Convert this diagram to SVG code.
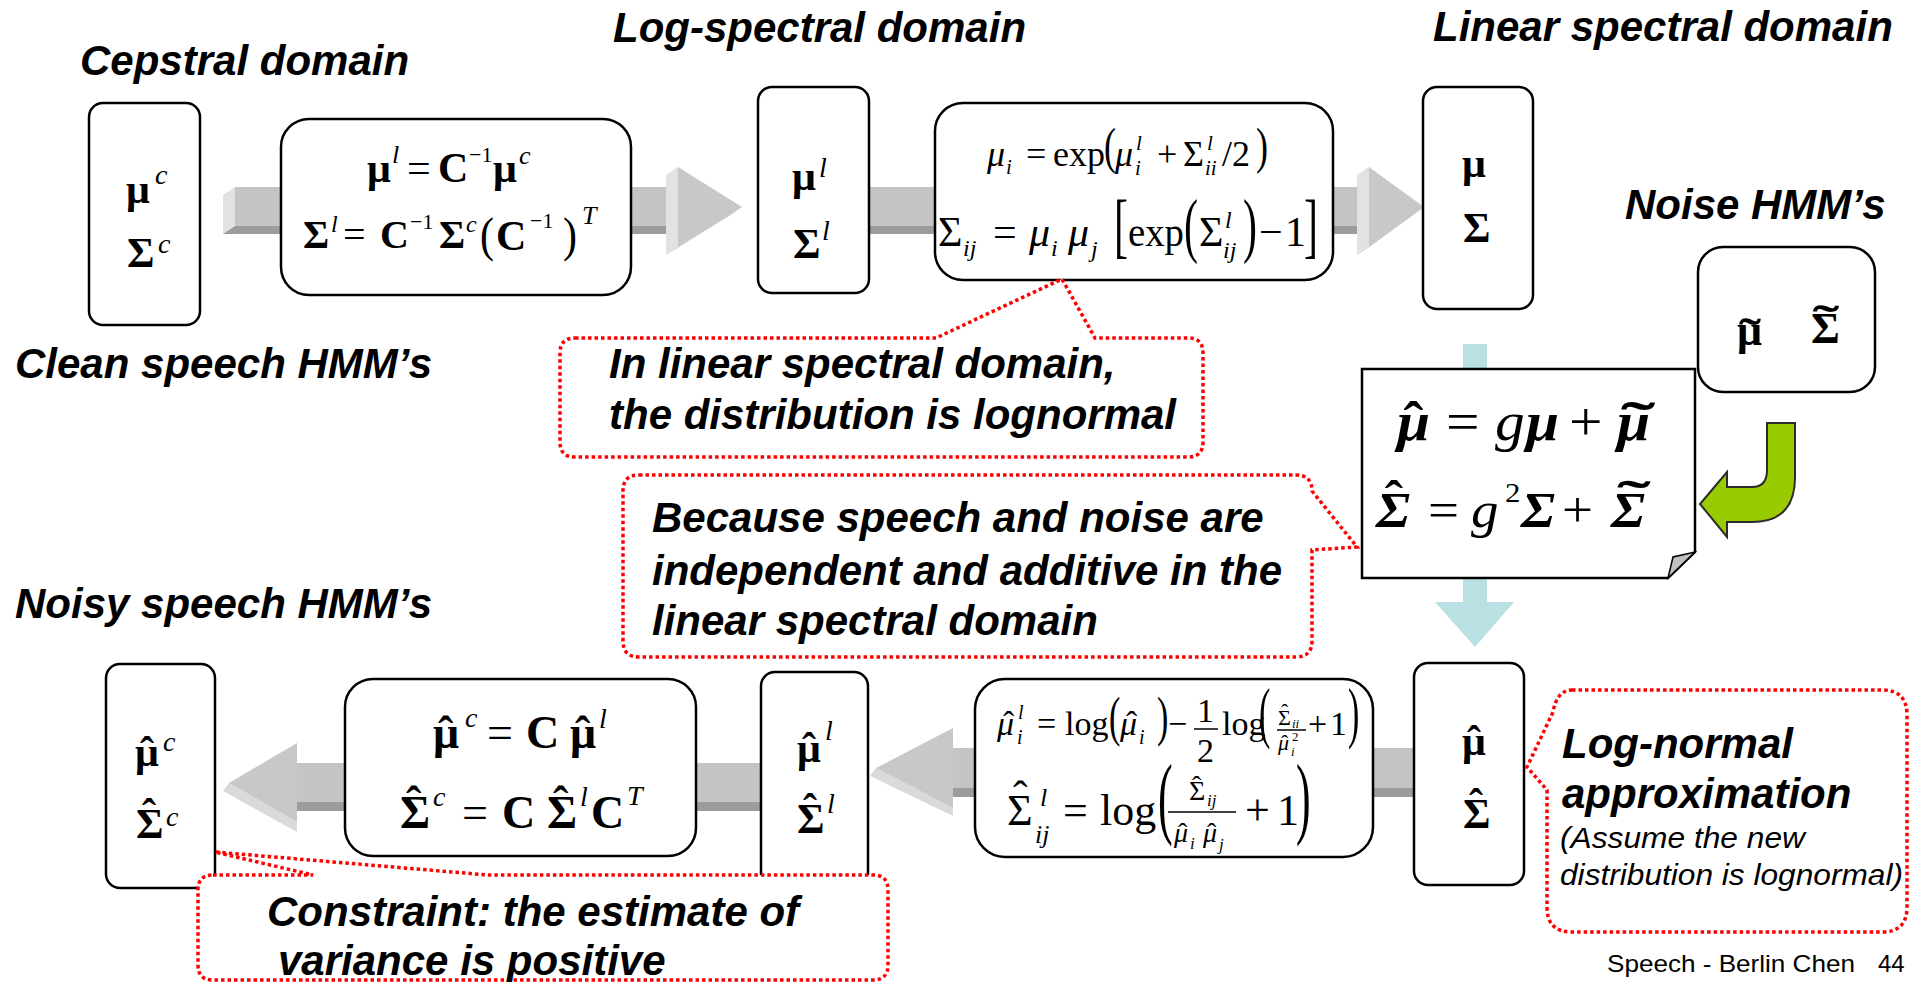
<svg xmlns="http://www.w3.org/2000/svg" width="1921" height="982" viewBox="0 0 1921 982">
<defs>
<style>
.h{font-family:"Liberation Sans",Arial,sans-serif;font-weight:bold;font-style:italic;font-size:42px;fill:#000}
.s{font-family:"Liberation Sans",Arial,sans-serif;font-style:italic;font-size:30px;fill:#000}
.f{font-family:"Liberation Sans",Arial,sans-serif;font-size:24px;fill:#000}
.m{font-family:"Liberation Serif","Times New Roman",serif;fill:#000}
.b{font-weight:bold}
.i{font-style:italic}
.box{fill:#fff;stroke:#000;stroke-width:2.5}
.co{fill:#fff;stroke:#f00;stroke-width:3.5;stroke-dasharray:3.5 3}
.fr{fill:#c4c4c4}.dk{fill:#9c9c9c}.lt{fill:#e2e2e2}.hd{fill:#c8c8c8}.bv{fill:#dadada}
.bar{stroke:#000;stroke-width:1.5}
</style>
</defs>
<rect width="1921" height="982" fill="#fff"/>

<!-- headings -->
<g id="headings">
<text class="h" x="80" y="75">Cepstral domain</text>
<text class="h" x="613" y="42">Log-spectral domain</text>
<text class="h" x="1433" y="41">Linear spectral domain</text>
<text class="h" x="1625" y="219">Noise HMM’s</text>
<text class="h" x="15" y="378">Clean speech HMM’s</text>
<text class="h" x="15" y="618">Noisy speech HMM’s</text>
<text class="f" x="1607" y="972" textLength="248" lengthAdjust="spacingAndGlyphs">Speech - Berlin Chen</text>
<text class="f" x="1878" y="972">44</text>
</g>

<!-- connectors -->
<g id="connectors">
<!-- arrow 1 -->
<polygon class="lt" points="223,195 235,187 235,226 223,234"/>
<polygon class="dk" points="235,226 680,226 672,234 223,234"/>
<rect class="fr" x="235" y="187" width="445" height="39"/>
<polygon class="lt" points="666,175 678,167 678,247 666,255"/>
<polygon fill="#b4b4b4" points="678,247 742,207 732,214 666,255"/>
<polygon class="hd" points="678,167 742,207 678,247"/>
<!-- arrow 2 -->
<polygon class="dk" points="860,226 1370,226 1362,234 860,234"/>
<rect class="fr" x="860" y="187" width="510" height="39"/>
<polygon class="lt" points="1357,175 1369,167 1369,247 1357,255"/>
<polygon fill="#b4b4b4" points="1369,247 1424,207 1414,214 1357,255"/>
<polygon class="hd" points="1369,167 1424,207 1369,247"/>
<!-- light blue down arrow -->
<rect x="1463" y="344" width="24" height="260" fill="#b9e0e3"/>
<polygon points="1435,602 1514,602 1475,647" fill="#b9e0e3"/>
<!-- green arrow -->
<path d="M1767,423 H1795 V477 Q1795,522 1752,522 H1727 V537 L1700,504 L1727,472 V487 H1752 Q1767,487 1767,470 Z" fill="#99cc00" stroke="#2b2b2b" stroke-width="2"/>
<!-- arrow 3 (bottom right, pointing left) -->
<polygon class="dk" points="953,788 1420,788 1420,797 945,797"/>
<rect class="fr" x="953" y="748" width="467" height="40"/>
<polygon class="bv" points="876,768 953,808 953,816 870,776"/>
<polygon class="hd" points="953,728 876,768 953,808"/>
<!-- arrow 4 (bottom left, pointing left) -->
<polygon class="dk" points="297,802 770,802 770,811 290,811"/>
<rect class="fr" x="297" y="763" width="473" height="39"/>
<polygon class="bv" points="229,783 297,822 297,832 223,791"/>
<polygon class="hd" points="297,743 229,783 297,822"/>
</g>

<!-- box 1: clean cepstral -->
<g id="clean-cepstral">
<rect class="box" x="89" y="103" width="111" height="222" rx="14"/>
<text class="m b" x="126" y="203" font-size="42">μ</text>
<text class="m i" x="155" y="184" font-size="28">c</text>
<text class="m b" x="127" y="267" font-size="42">Σ</text>
<text class="m i" x="158" y="253" font-size="28">c</text>
</g>

<!-- box 2: cepstral to log -->
<g id="cep-to-log">
<rect class="box" x="281" y="119" width="350" height="176" rx="28"/>
<text class="m b" x="367" y="182" font-size="42">μ</text>
<text class="m i" x="392" y="163" font-size="26">l</text>
<text class="m" x="407" y="182" font-size="42">=</text>
<text class="m b" x="438" y="182" font-size="42">C</text>
<text class="m" x="469" y="162" font-size="22">−1</text>
<text class="m b" x="493" y="182" font-size="42">μ</text>
<text class="m i" x="519" y="164" font-size="26">c</text>
<text class="m b" x="303" y="248" font-size="40">Σ</text>
<text class="m i" x="331" y="232" font-size="24">l</text>
<text class="m" x="343" y="248" font-size="40">=</text>
<text class="m b" x="380" y="248" font-size="40">C</text>
<text class="m" x="410" y="229" font-size="22">−1</text>
<text class="m b" x="439" y="248" font-size="40">Σ</text>
<text class="m i" x="466" y="232" font-size="24">c</text>
<text class="m" transform="translate(480,251) scale(1,1.15)" font-size="42">(</text>
<text class="m b" x="496" y="250" font-size="42">C</text>
<text class="m" x="530" y="228" font-size="22">−1</text>
<text class="m" transform="translate(563,251) scale(1,1.15)" font-size="42">)</text>
<text class="m i" x="582" y="224" font-size="26">T</text>
</g>

<!-- box: log spectral -->
<g id="log-spectral">
<rect class="box" x="758" y="87" width="111" height="206" rx="14"/>
<text class="m b" x="792" y="190" font-size="42">μ</text>
<text class="m i" x="819" y="177" font-size="28">l</text>
<text class="m b" x="793" y="258" font-size="42">Σ</text>
<text class="m i" x="822" y="240" font-size="28">l</text>
</g>

<!-- box 3: log to linear -->
<g id="log-to-linear">
<rect class="box" x="935" y="103" width="398" height="177" rx="28"/>
<text class="m i" x="987" y="166" font-size="36">μ</text>
<text class="m i" x="1006" y="174" font-size="21">i</text>
<text class="m" x="1026" y="166" font-size="36">=</text>
<text class="m" x="1053" y="166" font-size="36">exp</text>
<text class="m" transform="translate(1104,163) scale(1,1.4)" font-size="36">(</text>
<text class="m i" x="1115" y="166" font-size="36">μ</text>
<text class="m i" x="1136" y="150" font-size="21">l</text>
<text class="m i" x="1135" y="175" font-size="21">i</text>
<text class="m" x="1157" y="166" font-size="36">+</text>
<text class="m" x="1183" y="166" font-size="36">Σ</text>
<text class="m i" x="1207" y="150" font-size="21">l</text>
<text class="m i" x="1205" y="175" font-size="21">ii</text>
<text class="m" x="1222" y="166" font-size="36">/2</text>
<text class="m" transform="translate(1256,163) scale(1,1.4)" font-size="36">)</text>
<text class="m" x="938" y="246" font-size="42">Σ</text>
<text class="m i" x="963" y="256" font-size="24">ij</text>
<text class="m" x="993" y="246" font-size="42">=</text>
<text class="m i" x="1029" y="246" font-size="42">μ</text>
<text class="m i" x="1051" y="256" font-size="24">i</text>
<text class="m i" x="1068" y="246" font-size="42">μ</text>
<text class="m i" x="1091" y="257" font-size="24">j</text>
<text class="m" transform="translate(1114,249) scale(1,1.7)" font-size="42">[</text>
<text class="m" x="1128" y="246" font-size="42" textLength="56" lengthAdjust="spacingAndGlyphs">exp</text>
<text class="m" transform="translate(1184,249) scale(1,1.7)" font-size="42">(</text>
<text class="m" x="1199" y="246" font-size="42">Σ</text>
<text class="m i" x="1225" y="228" font-size="24">l</text>
<text class="m i" x="1223" y="258" font-size="24">ij</text>
<text class="m" transform="translate(1243,249) scale(1,1.7)" font-size="42">)</text>
<text class="m" x="1259" y="246" font-size="42">−</text>
<text class="m" x="1285" y="246" font-size="42">1</text>
<text class="m" transform="translate(1304,249) scale(1,1.7)" font-size="42">]</text>
</g>

<!-- box: linear spectral -->
<g id="linear-spectral">
<rect class="box" x="1423" y="87" width="110" height="222" rx="14"/>
<text class="m b" x="1462" y="177" font-size="42">μ</text>
<text class="m b" x="1463" y="242" font-size="42">Σ</text>
</g>

<!-- noise HMM box -->
<g id="noise-hmm">
<rect class="box" x="1698" y="247" width="177" height="145" rx="25"/>
<text class="m b" x="1737" y="345" font-size="44">μ</text>
<text class="m b" transform="translate(1750,349) scale(1.5,1)" text-anchor="middle" font-size="44">˜</text>
<text class="m b" x="1811" y="343" font-size="44">Σ</text>
<text class="m b" transform="translate(1826,336) scale(1.8,1)" text-anchor="middle" font-size="44">˜</text>
</g>

<!-- combination equation (note) -->
<g id="combine">
<path d="M1362,369 H1695 V552 L1668,578 H1362 Z" fill="#fff" stroke="#000" stroke-width="2.5"/>
<polygon points="1695,552 1668,578 1673,557" fill="#c0c0c0" stroke="#000" stroke-width="1.5"/>
<text class="m b i" transform="matrix(1.1 0 0 1 1397 440)" font-size="54">μ<tspan x="6" font-style="normal">ˆ</tspan></text>
<text class="m" transform="matrix(1.1 0 0 1 1446 440)" font-size="54">=</text>
<text class="m i" transform="matrix(1.1 0 0 1 1495 440)" font-size="54">g</text>
<text class="m b i" transform="matrix(1.1 0 0 1 1526 440)" font-size="54">μ</text>
<text class="m" transform="matrix(1.1 0 0 1 1569 440)" font-size="54">+</text>
<text class="m b i" transform="matrix(1.1 0 0 1 1617 440)" font-size="54">μ</text>
<text class="m b" transform="matrix(1.9 0 0 1 1638 440)" text-anchor="middle" font-size="54">˜</text>
<text class="m b i" transform="matrix(1.1 0 0 1 1376 527)" font-size="50">Σ<tspan x="8" y="-11" font-style="normal">ˆ</tspan></text>
<text class="m" transform="matrix(1.1 0 0 1 1428 527)" font-size="50">=</text>
<text class="m i" transform="matrix(1.1 0 0 1 1471 527)" font-size="50">g</text>
<text class="m" transform="matrix(1.1 0 0 1 1505 502)" font-size="28">2</text>
<text class="m b i" transform="matrix(1.1 0 0 1 1521 527)" font-size="50">Σ</text>
<text class="m" transform="matrix(1.1 0 0 1 1562 527)" font-size="50">+</text>
<text class="m b i" transform="matrix(1.1 0 0 1 1611 527)" font-size="50">Σ</text>
<text class="m b" transform="matrix(2.0 0 0 1 1634 516)" text-anchor="middle" font-size="50">˜</text>
</g>

<!-- noisy linear box -->
<g id="noisy-linear">
<rect class="box" x="1414" y="663" width="110" height="222" rx="14"/>
<text class="m b" font-size="42"><tspan x="1462" y="755">μ</tspan><tspan x="1467" y="755">ˆ</tspan></text>
<text class="m b" font-size="42"><tspan x="1463" y="828">Σ</tspan><tspan x="1469" y="818">ˆ</tspan></text>
</g>

<!-- linear to log -->
<g id="linear-to-log">
<rect class="box" x="975" y="679" width="398" height="178" rx="30"/>
<text class="m i" font-size="34"><tspan x="997" y="735">μ</tspan><tspan x="1003" y="735" font-style="normal">ˆ</tspan><tspan x="1018" y="719" font-size="20">l</tspan></text>
<text class="m i" x="1017" y="744" font-size="20">i</text>
<text class="m" x="1037" y="735" font-size="34">=</text>
<text class="m" x="1065" y="735" font-size="34">log</text>
<text class="m" transform="translate(1109,735) scale(1,1.6)" font-size="34">(</text>
<text class="m i" font-size="34"><tspan x="1120" y="735">μ</tspan><tspan x="1126" y="735" font-style="normal">ˆ</tspan><tspan x="1139" y="744" font-size="20">i</tspan></text>
<text class="m" transform="translate(1157,735) scale(1,1.6)" font-size="34">)</text>
<text class="m" x="1168" y="735" font-size="34">−</text>
<text class="m" x="1197" y="722" font-size="34">1</text>
<line class="bar" x1="1194" y1="729" x2="1218" y2="729"/>
<text class="m" x="1197" y="762" font-size="34">2</text>
<text class="m" x="1222" y="735" font-size="34">log</text>
<text class="m" transform="translate(1259,735) scale(1,2)" font-size="34">(</text>
<text class="m" font-size="22"><tspan x="1278" y="725">Σ</tspan><tspan x="1281" y="719">ˆ</tspan><tspan x="1292" y="728" font-size="13" font-style="italic">ii</tspan></text>
<line class="bar" x1="1277" y1="730" x2="1306" y2="730" stroke-width="1.2"/>
<text class="m i" font-size="22"><tspan x="1278" y="750">μ</tspan><tspan x="1281" y="750" font-style="normal">ˆ</tspan><tspan x="1292" y="741" font-size="13" font-style="normal">2</tspan></text>
<text class="m i" x="1291" y="756" font-size="13">i</text>
<text class="m" x="1308" y="735" font-size="34">+</text>
<text class="m" x="1330" y="735" font-size="34">1</text>
<text class="m" transform="translate(1348,735) scale(1,2)" font-size="34">)</text>
<text class="m" font-size="44"><tspan x="1007" y="825">Σ</tspan><tspan x="1013" y="811">ˆ</tspan><tspan x="1040" y="806" font-size="26" font-style="italic">l</tspan></text>
<text class="m i" x="1035" y="843" font-size="26">ij</text>
<text class="m" x="1063" y="825" font-size="44">=</text>
<text class="m" x="1100" y="825" font-size="44">log</text>
<text class="m" transform="translate(1158,827) scale(1,2.05)" font-size="44">(</text>
<text class="m" font-size="28"><tspan x="1189" y="800">Σ</tspan><tspan x="1192" y="795">ˆ</tspan><tspan x="1207" y="806" font-size="17" font-style="italic">ij</tspan></text>
<line class="bar" x1="1168" y1="812" x2="1236" y2="812"/>
<text class="m i" font-size="28"><tspan x="1174" y="842">μ</tspan><tspan x="1178" y="842" font-style="normal">ˆ</tspan><tspan x="1190" y="849" font-size="17">i</tspan><tspan x="1203" y="842">μ</tspan><tspan x="1207" y="842" font-style="normal">ˆ</tspan><tspan x="1219" y="850" font-size="17">j</tspan></text>
<text class="m" x="1245" y="825" font-size="44">+</text>
<text class="m" x="1277" y="825" font-size="44">1</text>
<text class="m" transform="translate(1296,827) scale(1,2.05)" font-size="44">)</text>
</g>

<!-- noisy log spectral box -->
<g id="noisy-log">
<rect class="box" x="761" y="672" width="107" height="223" rx="14"/>
<text class="m b" font-size="42"><tspan x="797" y="762">μ</tspan><tspan x="802" y="762">ˆ</tspan><tspan x="825" y="740" font-size="28" font-weight="normal" font-style="italic">l</tspan></text>
<text class="m b" font-size="42"><tspan x="797" y="833">Σ</tspan><tspan x="803" y="823">ˆ</tspan><tspan x="827" y="813" font-size="28" font-weight="normal" font-style="italic">l</tspan></text>
</g>

<!-- log to cepstral -->
<g id="log-to-cep">
<rect class="box" x="345" y="679" width="351" height="177" rx="28"/>
<text class="m b" font-size="46"><tspan x="433" y="748">μ</tspan><tspan x="438" y="748">ˆ</tspan><tspan x="465" y="727" font-size="28" font-weight="normal" font-style="italic">c</tspan></text>
<text class="m" x="487" y="748" font-size="46">=</text>
<text class="m b" x="526" y="748" font-size="46">C</text>
<text class="m b" font-size="46"><tspan x="570" y="748">μ</tspan><tspan x="575" y="748">ˆ</tspan><tspan x="599" y="728" font-size="28" font-weight="normal" font-style="italic">l</tspan></text>
<text class="m b" font-size="46"><tspan x="400" y="828">Σ</tspan><tspan x="406" y="818">ˆ</tspan><tspan x="433" y="806" font-size="28" font-weight="normal" font-style="italic">c</tspan></text>
<text class="m" x="462" y="828" font-size="46">=</text>
<text class="m b" x="502" y="828" font-size="46">C</text>
<text class="m b" font-size="46"><tspan x="547" y="828">Σ</tspan><tspan x="553" y="818">ˆ</tspan><tspan x="580" y="806" font-size="28" font-weight="normal" font-style="italic">l</tspan></text>
<text class="m b" x="591" y="828" font-size="46">C</text>
<text class="m i" x="627" y="805" font-size="28">T</text>
</g>

<!-- noisy cepstral box -->
<g id="noisy-cepstral">
<rect class="box" x="106" y="664" width="109" height="224" rx="14"/>
<text class="m b" font-size="42"><tspan x="135" y="766">μ</tspan><tspan x="140" y="766">ˆ</tspan><tspan x="163" y="751" font-size="28" font-weight="normal" font-style="italic">c</tspan></text>
<text class="m b" font-size="42"><tspan x="136" y="838">Σ</tspan><tspan x="142" y="828">ˆ</tspan><tspan x="166" y="826" font-size="28" font-weight="normal" font-style="italic">c</tspan></text>
</g>

<!-- callouts -->
<g id="callout-lognormal-domain">
<path class="co" d="M575,338 H936 L1062,279 L1095,338 H1188 Q1203,338 1203,353 V442 Q1203,457 1188,457 H575 Q560,457 560,442 V353 Q560,338 575,338 Z"/>
<text class="h" x="609" y="378">In linear spectral domain,</text>
<text class="h" x="609" y="429">the distribution is lognormal</text>
</g>
<g id="callout-additive">
<path class="co" d="M639,475 H1296 Q1312,475 1312,491 L1357,547 L1312,550 V641 Q1312,657 1296,657 H639 Q623,657 623,641 V491 Q623,475 639,475 Z"/>
<text class="h" x="652" y="532">Because speech and noise are</text>
<text class="h" x="652" y="585">independent and additive in the</text>
<text class="h" x="652" y="635">linear spectral domain</text>
</g>
<g id="callout-constraint">
<path class="co" d="M213,875 H313 L215,852 L488,875 H873 Q888,875 888,890 V965 Q888,980 873,980 H213 Q198,980 198,965 V890 Q198,875 213,875 Z"/>
<text class="h" x="267" y="926">Constraint: the estimate of</text>
<text class="h" x="278" y="975">variance is positive</text>
</g>
<g id="callout-approx">
<path class="co" d="M1572,690 H1882 Q1907,690 1907,715 V907 Q1907,932 1882,932 H1572 Q1547,932 1547,907 V790 L1527,767 L1553,712 Q1557,690 1572,690 Z"/>
<text class="h" x="1562" y="758">Log-normal</text>
<text class="h" x="1562" y="808">approximation</text>
<text class="s" x="1560" y="848" textLength="245" lengthAdjust="spacingAndGlyphs">(Assume the new</text>
<text class="s" x="1560" y="885" textLength="343" lengthAdjust="spacingAndGlyphs">distribution is lognormal)</text>
</g>
</svg>
